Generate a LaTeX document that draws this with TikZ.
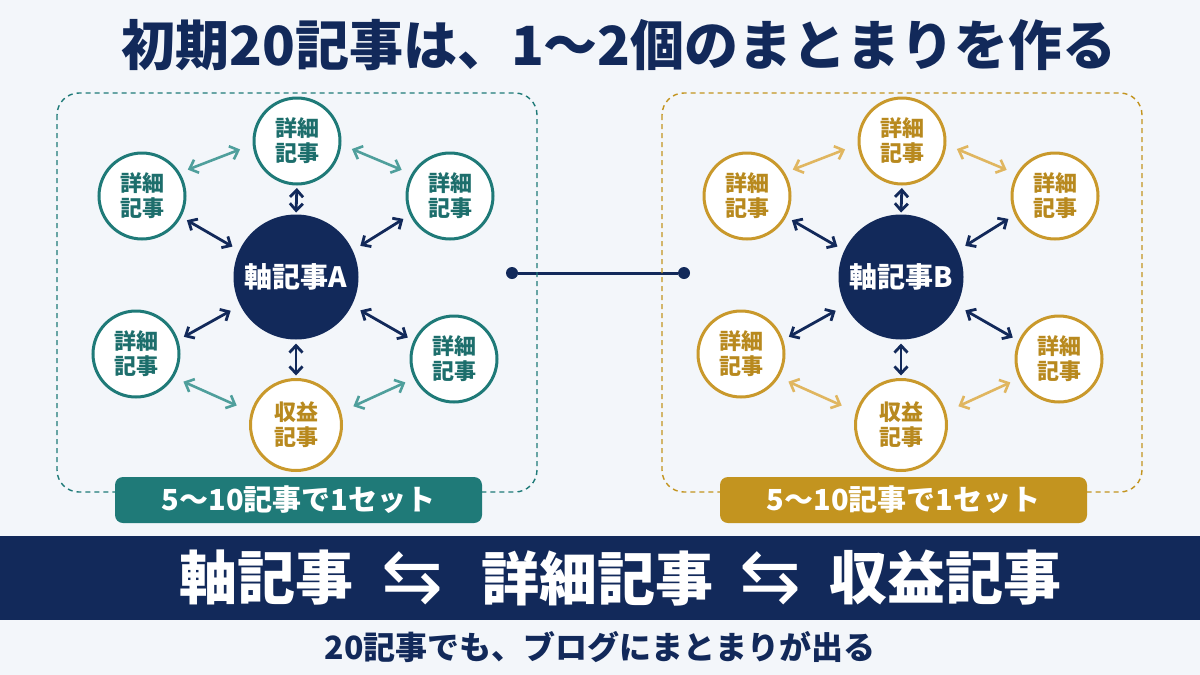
\documentclass[tikz,border=0pt]{standalone}
\usepackage{fontspec}
\setmainfont{Noto Sans CJK JP}
\newfontfamily\heavy{Noto Sans CJK JP Black}
\newfontfamily\symfont{DejaVu Sans}
\usetikzlibrary{arrows.meta,calc}
\definecolor{navy}{HTML}{12295A}
\definecolor{tealc}{HTML}{1F7A78}
\definecolor{teallt}{HTML}{4F9F9C}
\definecolor{tealtx}{HTML}{1D6E6C}
\definecolor{goldc}{HTML}{C9992C}
\definecolor{goldlt}{HTML}{E0B660}
\definecolor{goldtx}{HTML}{B8891E}
\definecolor{goldfill}{HTML}{C3941F}
\definecolor{bg}{HTML}{F3F6FA}
\tikzset{
  sat/.style={circle, draw=#1, line width=3pt, fill=white, minimum size=86pt,
    inner sep=0pt, outer sep=0pt, align=center,
    font=\heavy\fontsize{22}{25}\selectfont},
  hub/.style={circle, fill=navy, minimum size=125pt, inner sep=0pt, outer sep=0pt,
    text=white, font=\heavy\fontsize{28}{30}\selectfont},
  hubarrow/.style={draw=navy, line width=2.8pt,
    {Straight Barb[length=7pt,width=13pt]}-{Straight Barb[length=7pt,width=13pt]}},
  sidearrow/.style={draw=#1, line width=2.6pt,
    {Straight Barb[length=7.5pt,width=14pt]}-{Straight Barb[length=7.5pt,width=14pt]}},
  groupbox/.style={draw=#1, line width=1.4pt, dash pattern=on 5pt off 4pt, rounded corners=22pt},
  setlabel/.style={fill=#1, rounded corners=8pt, minimum width=367pt, minimum height=46pt,
    inner sep=0pt, text=white, font=\bfseries\fontsize{29}{30}\selectfont},
  dot/.style={circle, fill=navy, minimum size=12pt, inner sep=0pt, outer sep=0pt},
  bannertext/.style={text=white, font=\heavy\fontsize{58}{62}\selectfont},
  bannerarrow/.style={text=white, font=\symfont\fontsize{74}{80}\selectfont},
}
% #1 prefix, #2 xshift, #3 ring colour, #4 text colour, #5 side arrow colour,
% #6 letter, #7 box colour
\newcommand\drawcluster[7]{%
\begin{scope}[xshift=#2pt]
  \draw[groupbox=#7] (57,93) rectangle (537,492);
  \node[hub] (#1c) at (296,277) {軸記事#6};
  \node[sat=#3, text=#4] (#1t)  at (297,141) {詳細\\記事};
  \node[sat=#3, text=#4] (#1tl) at (142,196) {詳細\\記事};
  \node[sat=#3, text=#4] (#1tr) at (450,196) {詳細\\記事};
  \node[sat=#3, text=#4] (#1bl) at (136,354) {詳細\\記事};
  \node[sat=#3, text=#4] (#1br) at (454,359) {詳細\\記事};
  \node[sat=goldc, text=goldtx, minimum size=91pt] (#1b) at (296,425) {収益\\記事};
  \draw[hubarrow, shorten <=4pt, shorten >=2pt] (#1t.270) -- (#1c.90);
  \draw[hubarrow, shorten <=8pt, shorten >=8pt] (#1tl.-28) -- (#1c.155);
  \draw[hubarrow, shorten <=9pt, shorten >=9pt] (#1tr.205) -- (#1c.25);
  \draw[hubarrow, shorten <=11pt, shorten >=8pt] (#1c.207) -- (#1bl.18);
  \draw[hubarrow, shorten <=10pt, shorten >=8pt] (#1c.-27) -- (#1br.156);
  \draw[hubarrow, shorten <=4pt, shorten >=4pt] (#1c.270) -- (#1b.90);
  \draw[sidearrow=#5, shorten <=10pt, shorten >=15pt] (#1tl.32) -- (#1t.184);
  \draw[sidearrow=#5, shorten <=13pt, shorten >=12pt] (#1t.-4) -- (#1tr.150);
  \draw[sidearrow=#5, shorten <=12pt, shorten >=17pt] (#1bl.-32) -- (#1b.164);
  \draw[sidearrow=#5, shorten <=11pt, shorten >=15pt] (#1br.206) -- (#1b.16);
  \node[setlabel=#7] (#1lab) at (298.5,500) {5〜10記事で1セット};
\end{scope}}
\begin{document}
\begin{tikzpicture}[x=1pt,y=-1pt]
  \fill[bg] (0,0) rectangle (1200,675);
  \useasboundingbox (0,0) rectangle (1200,675);
  \node[text=navy, font=\heavy\fontsize{54}{60}\selectfont] (title) at (619,45)
    {初期20記事は、1〜2個のまとまりを作る};
  \node[dot] (dl) at (512,273) {};
  \node[dot] (dr) at (684,273) {};
  \draw[navy, line width=3pt] (dl) -- (dr);
  \drawcluster{a}{0}{tealc}{tealtx}{teallt}{A}{tealc}
  \drawcluster{b}{605}{goldc}{goldtx}{goldlt}{B}{goldfill}
  \node[fill=navy, minimum width=1200pt, minimum height=84pt, inner sep=0pt,
        anchor=north west] (banner) at (0,536) {};
  \node[bannertext] (k1) at (266,578) {軸記事};
  \node[bannerarrow] (ar1) at (412,578) {⇆};
  \node[bannertext] (k2) at (597,578) {詳細記事};
  \node[bannerarrow] (ar2) at (770,578) {⇆};
  \node[bannertext] (k3) at (945,578) {収益記事};
  \node[text=navy, font=\heavy\fontsize{32}{36}\selectfont] (foot) at (600,647)
    {20記事でも、ブログにまとまりが出る};
\end{tikzpicture}
\end{document}
